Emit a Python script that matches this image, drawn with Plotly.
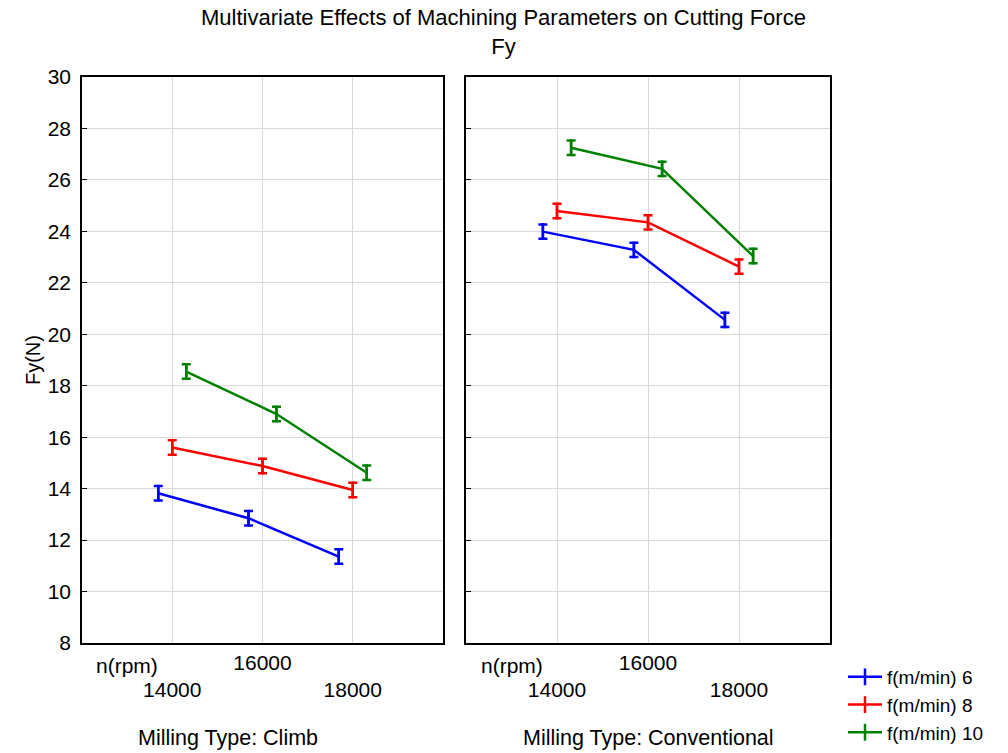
import plotly.graph_objects as go

# ---- data ----
n_rpm = [14000, 16000, 18000]
feeds = ["f(m/min) 6", "f(m/min) 8", "f(m/min) 10"]
climb_f6 = [13.82, 12.85, 11.36]
climb_f8 = [15.60, 14.88, 13.95]
climb_f10 = [18.55, 16.90, 14.62]
conv_f6 = [23.99, 23.28, 20.56]
conv_f8 = [24.79, 24.35, 22.63]
conv_f10 = [27.25, 26.43, 23.04]
err_climb = [0.28, 0.28, 0.28]
err_conv = [0.28, 0.28, 0.28]
y_ticks = [8, 10, 12, 14, 16, 18, 20, 22, 24, 26, 28, 30]

colors = ["#0000ff", "#ff0000", "#008000"]
offsets = [-0.155, 0.0, 0.155]
FONT = "Liberation Sans, Arial, sans-serif"

fig = go.Figure()
cat_pos = [i + 1 for i in range(len(n_rpm))]

panels = [("x", "y", [climb_f6, climb_f8, climb_f10], err_climb),
          ("x2", "y2", [conv_f6, conv_f8, conv_f10], err_conv)]
for p, (xa, ya, series, err) in enumerate(panels):
    for k, vals in enumerate(series):
        fig.add_trace(go.Scatter(
            x=[c + offsets[k] for c in cat_pos], y=vals,
            xaxis=xa, yaxis=ya, mode="lines+markers",
            line=dict(color=colors[k], width=2.5),
            marker=dict(symbol="line-ns", size=12, color=colors[k],
                        line=dict(color=colors[k], width=2.5)),
            error_y=dict(type="data", array=err, visible=True,
                         color=colors[k], thickness=2.5, width=4.5),
            name=feeds[k], showlegend=(p == 0), legendgroup=feeds[k],
            hovertemplate="n=%{customdata}<br>Fy=%{y}<extra></extra>",
            customdata=n_rpm,
        ))

ticktext = [("<br>" if i % 2 == 0 else "") + str(v) for i, v in enumerate(n_rpm)]

axis_common = dict(
    range=[0, 4], tickvals=cat_pos, ticktext=ticktext,
    showgrid=True, gridcolor="#d9d9d9", gridwidth=1,
    showline=True, linecolor="#000000", linewidth=1.5, mirror=True,
    ticks="", zeroline=False,
    tickfont=dict(family=FONT, size=21, color="#000"),
)
yaxis_common = dict(
    range=[8, 30], tickvals=y_ticks,
    showgrid=True, gridcolor="#d9d9d9", gridwidth=1,
    showline=True, linecolor="#000000", linewidth=1.5, mirror=True,
    ticks="inside", ticklen=5, tickcolor="#000", zeroline=False,
    tickfont=dict(family=FONT, size=21, color="#000"),
)

y_dom = [1 - 643 / 753, 1 - 77 / 753]
fig.update_layout(
    width=1008, height=753,
    margin=dict(l=0, r=0, t=0, b=0, autoexpand=False),
    paper_bgcolor="white", plot_bgcolor="white",
    xaxis=dict(domain=[82 / 1008, 443 / 1008], anchor="y", **axis_common),
    xaxis2=dict(domain=[466 / 1008, 830 / 1008], anchor="y2", **axis_common),
    yaxis=dict(domain=y_dom, anchor="x", showticklabels=True, ticklabelstandoff=5,
               title=dict(text="Fy(N)", standoff=2,
                          font=dict(family=FONT, size=20, color="#000")),
               **yaxis_common),
    yaxis2=dict(domain=y_dom, anchor="x2", showticklabels=False, **yaxis_common),
    legend=dict(x=843 / 1008, y=1 - 658 / 753, xanchor="left", yanchor="top",
                font=dict(family=FONT, size=19, color="#000"),
                bgcolor="rgba(0,0,0,0)", tracegroupgap=0, itemwidth=34),
    showlegend=True,
)

fig.add_annotation(text="Multivariate Effects of Machining Parameters on Cutting Force<br>Fy",
                   xref="paper", yref="paper", x=503 / 1008, y=1, yshift=-3,
                   xanchor="center", yanchor="top", showarrow=False,
                   font=dict(family=FONT, size=22, color="#000"))

# row label and panel captions
for xr in ["x", "x2"]:
    fig.add_annotation(text="n(rpm)", xref=xr, yref="paper", x=0.5, y=1 - 665 / 753,
                       xanchor="center", yanchor="middle", showarrow=False,
                       font=dict(family=FONT, size=21, color="#000"))
fig.add_annotation(text="Milling Type: Climb", xref="paper", yref="paper",
                   x=228 / 1008, y=1 - 738 / 753, xanchor="center", yanchor="middle",
                   showarrow=False, font=dict(family=FONT, size=21.5, color="#000"))
fig.add_annotation(text="Milling Type: Conventional", xref="paper", yref="paper",
                   x=648 / 1008, y=1 - 738 / 753, xanchor="center", yanchor="middle",
                   showarrow=False, font=dict(family=FONT, size=21.5, color="#000"))

fig.write_html("out.html")
